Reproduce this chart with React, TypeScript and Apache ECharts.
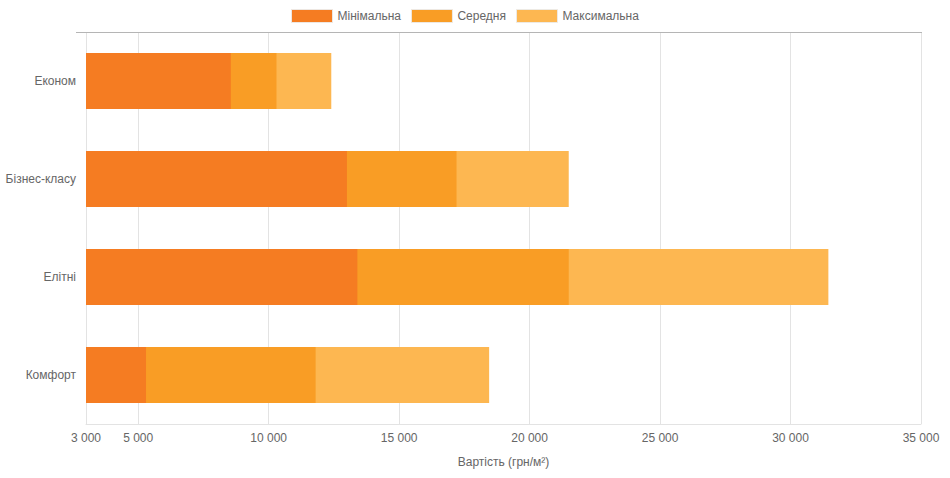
import React, { useEffect, useRef } from "react";
import * as echarts from "echarts";

const categories = ["Економ", "Бізнес-класу", "Елітні", "Комфорт"];
const minValues = [8550, 13000, 13400, 5300];
const avgValues = [10300, 17200, 21500, 11800];
const maxValues = [12400, 21500, 31450, 18450];
const tickValues = [3000, 5000, 10000, 15000, 20000, 25000, 30000, 35000];
const seriesNames = ["Мінімальна", "Середня", "Максимальна"];
const colors = ["#F57C22", "#F99D25", "#FDB751"];

const fmt = (v: number) => String(v).replace(/\B(?=(\d{3})+(?!\d))/g, " ");
const FONT = "'Liberation Sans', Arial, sans-serif";

export default function App() {
  const ref = useRef<HTMLDivElement>(null);
  useEffect(() => {
    document.body.style.margin = "0";
    const chart = echarts.init(ref.current!, null, { renderer: "svg" });
    const data = [minValues, avgValues, maxValues];
    chart.setOption({
      animation: false,
      textStyle: { fontFamily: FONT },
      legend: {
        top: 9,
        left: 291,
        padding: 0,
        icon: "rect",
        itemWidth: 41,
        itemHeight: 13,
        itemGap: 10,
        data: seriesNames,
        textStyle: { color: "#666", fontSize: 12, fontFamily: FONT },
        itemStyle: { borderColor: "rgba(235,235,235,0.9)", borderWidth: 1 },
      },
      grid: { left: 86, right: 29, top: 32, bottom: 54, containLabel: false },
      graphic: [
        {
          type: "line",
          shape: { x1: 76, y1: 32.5, x2: 922, y2: 32.5 },
          style: { stroke: "#b5b5b5", lineWidth: 1 },
          z: 10,
        },
      ],
      xAxis: {
        type: "value",
        min: 3000,
        max: 35000,
        interval: 1000,
        name: "Вартість (грн/м²)",
        nameLocation: "middle",
        nameGap: 32,
        nameTextStyle: { color: "#666", fontSize: 12, fontFamily: FONT },
        axisLine: { show: true, lineStyle: { color: "#e3e3e3" } },
        splitLine: { show: false },
        axisTick: {
          show: true,
          inside: true,
          length: 392,
          customValues: tickValues,
          lineStyle: { color: "#e3e3e3" },
        },
        axisLabel: {
          customValues: tickValues,
          color: "#666",
          fontSize: 12,
          margin: 8,
          fontFamily: FONT,
          formatter: (v: number) => fmt(v),
        },
      },
      yAxis: {
        type: "category",
        inverse: true,
        data: categories,
        axisLine: { show: false },
        axisTick: { show: false },
        splitLine: { show: false },
        axisLabel: { color: "#666", fontSize: 12, margin: 10, fontFamily: FONT },
      },
      series: seriesNames.map((name, i) => ({
        name,
        type: "bar",
        data: data[i],
        barGap: "-100%",
        barCategoryGap: "43%",
        z: 5 - i,
        itemStyle: { color: colors[i] },
        emphasis: { disabled: true },
      })),
    });
    return () => chart.dispose();
  }, []);
  return <div ref={ref} style={{ width: 950, height: 478 }} />;
}
